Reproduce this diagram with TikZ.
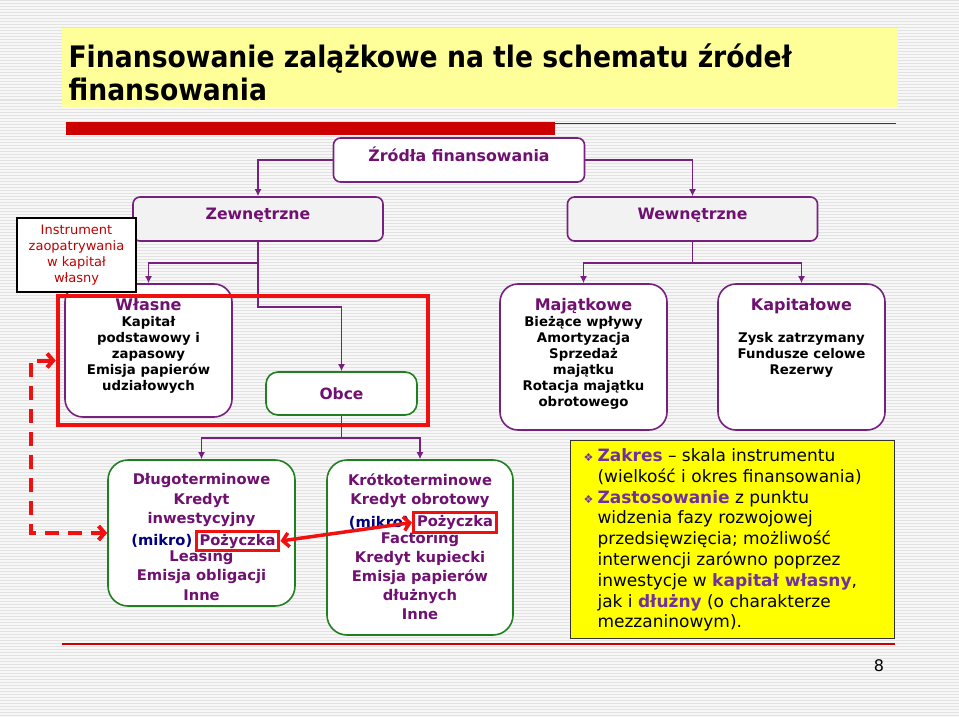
\documentclass[tikz,border=0pt]{standalone}
\usepackage{fontspec}
\setmainfont{DejaVu Sans}
\newfontfamily\titlefont{DejaVu Sans Condensed}
\usetikzlibrary{arrows,arrows.meta,positioning}
\definecolor{boxpurple}{RGB}{120,32,128}
\definecolor{txtpurple}{RGB}{112,16,112}
\definecolor{notepurple}{RGB}{112,48,160}
\definecolor{mikroblue}{RGB}{0,0,128}
\definecolor{slidered}{RGB}{204,0,0}
\definecolor{instrred}{RGB}{192,0,0}
\definecolor{framered}{RGB}{240,16,16}
\definecolor{boxgreen}{RGB}{32,128,32}
\definecolor{titleyellow}{RGB}{255,255,153}
\definecolor{noteyellow}{RGB}{255,255,0}
\definecolor{stripegray}{RGB}{226,226,226}
\newcommand\fsize[2]{\fontsize{#1}{#2}\selectfont}
\newcommand\boxhead[1]{{\fsize{16}{17}\color{txtpurple}#1}}
\newcommand\notebold[1]{\textcolor{notepurple}{\bfseries #1}}
\newcommand\notebullet{\llap{\textcolor{notepurple}{\fsize{11}{11}❖}\hspace{4pt}}}

\begin{document}
\begin{tikzpicture}[x=1pt,y=-1pt,
  topbox/.style={draw=boxpurple,line width=1.6pt,rounded corners=7pt,fill=gray!10,
    minimum width=250,minimum height=44,text depth=11pt,text=txtpurple,font=\fsize{15.7}{18}\bfseries},
  srcbox/.style={topbox,fill=white,font=\fsize{15.8}{18}\bfseries},
  midbox/.style={draw=boxpurple,line width=1.6pt,rounded corners=18pt,fill=white,minimum width=167},
  midtext/.style={align=center,font=\fsize{13.3}{16}\bfseries},
  greenbox/.style={draw=boxgreen,line width=1.6pt,rounded corners=12pt,fill=white},
  lowbox/.style={greenbox,rounded corners=20pt},
  lowtext/.style={align=center,text=txtpurple,font=\fsize{14.7}{19.2}\bfseries},
  pozbox/.style={draw=framered,line width=3pt,inner xsep=3.5pt,inner ysep=2.5pt,text=txtpurple,font=\fsize{14.7}{19.2}\bfseries},
  mikro/.style={inner sep=1pt,text=mikroblue,font=\fsize{14.7}{19.2}\bfseries},
  instrbox/.style={draw=black,line width=1.3pt,fill=white,minimum width=119,minimum height=74,
    align=center,text=instrred,font=\fsize{13}{16}},
  redframe/.style={draw=framered,line width=4.5pt},
  conn/.style={draw=boxpurple,line width=1.5pt,-{Latex[length=7pt,width=7pt]}},
  redtip/.style={{Straight Barb[length=6pt,width=14pt]}-{Straight Barb[length=6pt,width=14pt]}},
  redarrow/.style={draw=framered,line width=3.5pt,redtip},
  reddash/.style={draw=framered,line width=4pt,dash pattern=on 14pt off 9pt,redtip},
  notebox/.style={draw=black!80,line width=1.2pt,fill=noteyellow,minimum width=324,minimum height=198},
  notetext/.style={align=left,font=\fsize{17}{20.8}}]
\useasboundingbox (0,0) rectangle (959,717);
\fill[white!97!black] (0,0) rectangle (959,717);
\foreach \y in {1,4,...,716}
  \draw[stripegray,line width=1pt] (0,\y) -- (959,\y);

% title
\fill[titleyellow] (62,28) rectangle (898,107);
\node[anchor=north west,align=left,font=\titlefont\bfseries\fsize{29.6}{33}] (title) at (65,40)
  {Finansowanie zalążkowe na tle schematu źródeł\\finansowania};
\fill[slidered] (66,122) rectangle (555,135);
\draw[slidered,line width=1.5pt] (555,123.5) -- (896,123.5);

\node[srcbox,minimum width=251] (zrodla) at (459,160) {Źródła finansowania};
\node[topbox] (zewn) at (258,219) {Zewnętrzne};
\node[topbox] (wewn) at (692.5,219) {Wewnętrzne};
\draw[conn] (zrodla.west) -| (zewn.north);
\draw[conn] (zrodla.east) -| (wewn.north);

\node[midbox,minimum height=133] (wlasne) at (148.5,350.5) {};
\node[midbox,minimum height=146] (majatk) at (583.5,357) {};
\node[midbox,minimum height=146] (kapit) at (801.5,357) {};
\node[greenbox,minimum width=151,minimum height=43,text=txtpurple,font=\fsize{15.5}{18}\bfseries] (obce) at (341.5,393.5) {Obce};
\node[midtext,below=12pt of wlasne.north] (wlasneTxt)
  {\boxhead{Własne}\\Kapitał\\podstawowy i\\zapasowy\\Emisja papierów\\udziałowych};
\node[midtext,below=12pt of majatk.north] (majatkTxt)
  {\boxhead{Majątkowe}\\Bieżące wpływy\\Amortyzacja\\Sprzedaż\\majątku\\Rotacja majątku\\obrotowego};
\node[midtext,below=12pt of kapit.north] (kapitTxt)
  {\boxhead{Kapitałowe}\\[16pt]Zysk zatrzymany\\Fundusze celowe\\Rezerwy};

\coordinate (zsplit) at (258,263);
\coordinate (osplit) at (258,307);
\coordinate (wsplit) at (692.5,263);
\draw[conn] (zewn.south) -- (zsplit) -| (wlasne.north);
\draw[conn] (zsplit) -- (osplit) -| (obce.north);
\draw[conn] (wewn.south) -- (wsplit) -| (majatk.north);
\draw[conn] (wsplit) -| (kapit.north);

\node[redframe,minimum width=370,minimum height=129] (frame) at (243,360.5) {};
\node[instrbox] (instr) at (76.5,255) {Instrument\\zaopatrywania\\w kapitał\\własny};

% dluzne
\node[lowbox,minimum width=187,minimum height=146] (dlugo) at (201.5,533) {};
\node[lowbox,minimum width=186,minimum height=175] (krotko) at (420,547.5) {};
\coordinate (lsplit) at (341.5,438);
\draw[conn] (obce.south) -- (lsplit) -| (dlugo.north);
\draw[conn] (lsplit) -| (krotko.north);
\node[lowtext,below=11pt of dlugo.north] (dlugoTxt)
  {Długoterminowe\\Kredyt\\inwestycyjny\\\phantom{(mikro) Pożyczka}\\Leasing\\Emisja obligacji\\Inne};
\node[lowtext,below=11pt of krotko.north] (krotkoTxt)
  {Krótkoterminowe\\Kredyt obrotowy\\\phantom{(mikro) Pożyczka}\\Factoring\\Kredyt kupiecki\\Emisja papierów\\dłużnych\\Inne};
\node[pozbox] (dpoz) at (237.5,541) {Pożyczka};
\node[mikro,left=1pt of dpoz] (dmikro) {(mikro)};
\node[pozbox] (kpoz) at (455,522.5) {Pożyczka};
\node[mikro,left=1pt of kpoz] (kmikro) {(mikro)};
\draw[redarrow] (dpoz.east) -- (kpoz.west);
\draw[reddash] (frame.west) -- ++(-25,0) |- (dlugo.west);

% notatka
\node[notebox,anchor=north west] (note) at (570,440) {};
\node[notetext,below right=5pt and 24pt of note.north west] (noteTxt)
  {\notebullet\notebold{Zakres} – skala instrumentu\\
   (wielkość i okres finansowania)\\
   \notebullet\notebold{Zastosowanie} z punktu\\
   widzenia fazy rozwojowej\\
   przedsięwzięcia; możliwość\\
   interwencji zarówno poprzez\\
   inwestycje w \notebold{kapitał własny},\\
   jak i \notebold{dłużny} (o charakterze\\
   mezzaninowym).};
\draw[slidered,line width=2pt] (62,644) -- (895,644);
\node[font=\fsize{16}{16}] (page) at (879,666) {8};
\end{tikzpicture}
\end{document}
